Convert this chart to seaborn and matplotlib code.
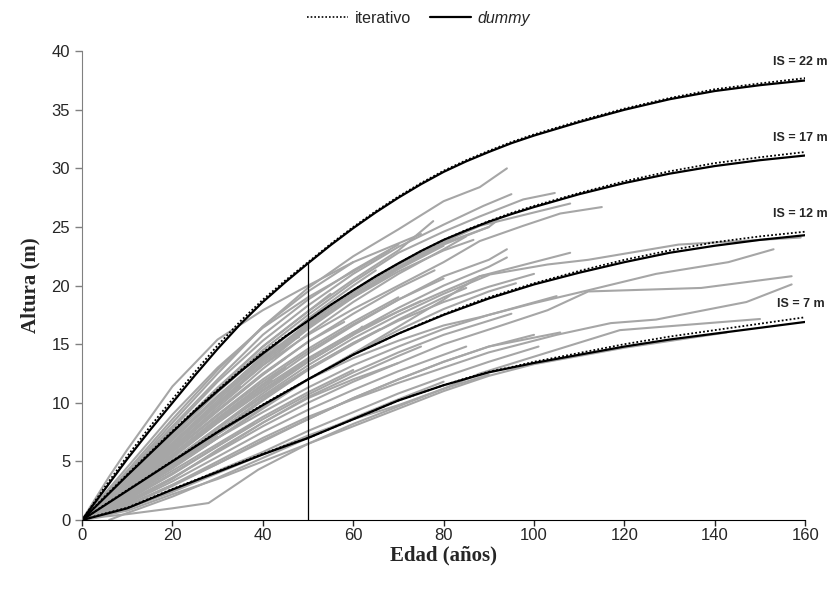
import matplotlib
matplotlib.use("Agg")
import matplotlib.pyplot as plt
import seaborn as sns
import pandas as pd
from matplotlib.lines import Line2D

# --- curvas de índice de sitio ---
edad_curva = [0, 5, 10, 15, 20, 25, 30, 35, 40, 45, 50, 55, 60, 65, 70, 75, 80, 85, 90, 95, 100,
              110, 120, 130, 140, 150, 160]
indices = ["IS = 22 m", "IS = 17 m", "IS = 12 m", "IS = 7 m"]

dummy_22 = [0, 2.6, 5.2, 7.65, 10.0, 12.35, 14.6, 16.7, 18.6, 20.3, 21.9, 23.45, 24.9, 26.25, 27.5,
            28.65, 29.7, 30.6, 31.4, 32.15, 32.8, 33.95, 35.0, 35.9, 36.6, 37.1, 37.5]
dummy_17 = [0, 1.9, 3.8, 5.65, 7.5, 9.3, 11.0, 12.65, 14.2, 15.65, 17.0, 18.35, 19.6, 20.8, 21.9,
            22.95, 23.9, 24.7, 25.45, 26.1, 26.7, 27.8, 28.75, 29.55, 30.2, 30.7, 31.1]
dummy_12 = [0, 1.25, 2.5, 3.75, 5.0, 6.25, 7.5, 8.65, 9.8, 10.9, 12.0, 13.05, 14.1, 15.0, 15.9,
            16.7, 17.5, 18.2, 18.9, 19.5, 20.1, 21.1, 22.0, 22.8, 23.4, 23.9, 24.3]
dummy_7 = [0, 0.5, 1.0, 1.8, 2.6, 3.35, 4.1, 4.85, 5.6, 6.3, 7.0, 7.8, 8.6, 9.4, 10.2,
           10.85, 11.5, 12.05, 12.6, 13.0, 13.4, 14.1, 14.8, 15.4, 15.9, 16.4, 16.9]

iter_22 = [0, 2.8, 5.45, 7.95, 10.3, 12.65, 14.9, 16.95, 18.8, 20.45, 22.0, 23.55, 25.0, 26.35, 27.6,
           28.75, 29.8, 30.7, 31.5, 32.25, 32.9, 34.05, 35.1, 36.0, 36.75, 37.25, 37.7]
iter_17 = [0, 2.0, 3.9, 5.75, 7.6, 9.4, 11.1, 12.75, 14.3, 15.7, 17.0, 18.35, 19.6, 20.8, 21.9,
           22.95, 23.9, 24.75, 25.5, 26.2, 26.8, 27.9, 28.9, 29.75, 30.45, 30.95, 31.4]
iter_12 = [0, 1.3, 2.55, 3.8, 5.05, 6.3, 7.55, 8.7, 9.85, 10.95, 12.0, 13.05, 14.1, 15.0, 15.9,
           16.75, 17.55, 18.3, 19.0, 19.6, 20.2, 21.25, 22.2, 23.0, 23.7, 24.2, 24.6]
iter_7 = [0, 0.55, 1.05, 1.85, 2.65, 3.4, 4.15, 4.9, 5.65, 6.35, 7.0, 7.8, 8.6, 9.4, 10.2,
          10.85, 11.5, 12.1, 12.65, 13.05, 13.5, 14.25, 15.0, 15.65, 16.2, 16.75, 17.3]

# posición de las etiquetas IS (edad, altura)
etiqueta_x = [159, 159, 159, 159]
etiqueta_y = [39.1, 32.6, 26.1, 18.4]

# edad de referencia
edad_ref = 50
altura_ref = 21.9

# --- datos observados (análisis de tallo), un árbol por fila ---
arbol_edades = [
    [0, 10, 20, 30, 40, 50, 60, 70, 80, 88, 94],
    [0, 10, 20, 30, 40, 50, 60, 70, 80, 88.8, 95],
    [0, 10, 20, 30, 40, 50, 60, 70, 80, 88, 97.6, 104.6],
    [0, 10, 20, 30, 40, 50, 60, 70, 80, 88, 108],
    [0, 10, 20, 30, 40, 50, 60, 70, 80, 88, 97.6, 105.8, 115],
    [0, 10, 20, 30, 40, 50, 60, 70, 77.7],
    [0, 10, 20, 30, 40, 50, 60, 70, 80, 86.6],
    [0, 10, 20, 30, 40, 50, 60, 70],
    [0, 10, 20, 30, 40, 50, 60],
    [0, 10, 20, 30, 40, 50, 60, 65],
    [0, 10, 20, 30, 40, 50, 60, 70, 80],
    [0, 6, 10, 20, 30, 40, 50, 60, 70, 75],
    [0, 10, 20, 30, 40, 50, 60, 70, 80, 90],
    [0, 10, 20, 30, 40, 50, 55],
    [0, 10, 20, 30, 40, 50, 60, 70, 72],
    [0, 10, 20, 30, 40, 50, 60, 70, 80, 85],
    [0, 10, 20, 30, 40, 50, 60, 68],
    [0, 10, 20, 30, 40, 50, 60, 70, 80, 90, 92],
    # banda media
    [0, 10, 20, 30, 40, 50, 60, 70, 80, 88, 108],
    [0, 10, 20, 30, 40, 50, 60, 70, 80, 90, 94],
    [0, 10, 20, 30, 40, 50, 60, 70, 80, 90, 94],
    [0, 10, 20, 30, 40, 50, 60, 70, 80],
    [0, 10, 20, 30, 40, 50, 60, 70],
    [0, 10, 20, 30, 40, 50, 60, 62],
    [0, 10, 20, 30, 40, 50, 60, 70, 80, 90],
    [0, 10, 20, 30, 40, 50, 60, 70, 75],
    [0, 10, 20, 30, 40, 50, 60, 70, 80, 85],
    [0, 10, 20, 30, 40, 50, 58],
    [0, 10, 20, 30, 40, 50, 60, 70, 80, 90, 100],
    [0, 10, 20, 30, 40, 45],
    [0, 10, 20, 30, 40, 50, 60, 66],
    [0, 10, 20, 30, 40, 50, 60, 70, 80, 90, 96],
    [0, 10, 20, 30, 40, 50, 60, 70, 80, 90, 105],
    [0, 10, 20, 30, 40, 50, 60, 70, 80, 88, 103, 112, 132, 159],
    [0, 10, 20, 30, 40, 50, 60, 70, 80, 88, 100, 112, 127, 143, 153],
    [0, 10, 20, 30, 40, 50, 60, 70, 78],
    # banda baja
    [0, 10, 20, 30, 40, 50, 60, 70, 80, 92, 103, 112, 137, 157],
    [0, 10, 20, 30, 40, 50, 60, 70, 80, 90, 105, 117, 127, 147, 157],
    [0, 10, 20, 30, 40, 50, 60, 70, 80, 88, 98, 119, 150],
    [0, 10, 20, 30, 40, 50, 60, 70, 80, 90, 100, 120, 142.6],
    [0, 10, 20, 30, 40, 50, 60, 70, 80, 90, 105.8],
    [0, 10, 20, 30, 40, 50, 60, 70, 80, 90, 101],
    [0, 10, 20, 30, 40, 50, 60, 70],
    [0, 10, 20, 30, 40, 50, 60, 70, 80, 85],
    [0, 10, 20, 30, 40, 50, 60, 70, 80, 90, 95],
    [0, 5, 10, 20, 28, 39, 50, 60, 70, 80, 90],
    [6, 10, 20, 30, 40, 50, 60, 70, 80],
    [0, 10, 20, 30, 40, 50, 60],
    [0, 10, 20, 30, 40, 50, 60, 70, 80, 90, 100],
    [0, 10, 20, 30, 40, 50, 60, 70, 75],
    # árboles jóvenes
    [0, 10, 20, 30, 35],
    [0, 10, 20, 30, 40, 42],
    [0, 10, 20, 30],
    [0, 10, 20, 30, 40, 48],
    [0, 10, 20, 30, 38],
    [0, 10, 20, 30, 40, 45],
    [0, 10, 20, 30, 40, 50, 52],
    [0, 10, 20, 30, 40],
]
arbol_alturas = [
    [0, 4.0, 8.3, 12.5, 16.5, 19.8, 22.5, 24.8, 27.2, 28.4, 30.0],
    [0, 3.8, 7.8, 11.8, 15.3, 18.3, 21.0, 23.3, 25.2, 26.8, 27.8],
    [0, 3.5, 7.3, 11.0, 14.5, 17.5, 20.3, 22.8, 24.6, 25.9, 27.35, 27.9],
    [0, 3.3, 7.0, 10.5, 13.8, 16.8, 19.5, 21.8, 23.7, 25.1, 27.0],
    [0, 3.0, 6.5, 10.0, 13.2, 15.8, 18.0, 20.0, 22.0, 23.8, 25.1, 26.15, 26.7],
    [0, 3.6, 7.5, 11.3, 14.8, 17.8, 20.5, 23.0, 25.5],
    [0, 3.4, 7.0, 10.6, 13.8, 16.6, 19.0, 21.2, 23.0, 23.9],
    [0, 3.9, 8.0, 12.0, 15.8, 18.8, 21.3, 23.5],
    [0, 4.2, 8.6, 12.8, 16.5, 19.5, 22.0],
    [0, 3.2, 6.8, 10.5, 14.0, 17.2, 20.0, 21.3],
    [0, 3.0, 6.4, 9.9, 13.2, 16.3, 19.0, 21.4, 23.4],
    [0, 3.7, 6.0, 11.4, 15.4, 17.9, 20.0, 22.0, 23.6, 24.4],
    [0, 3.3, 6.9, 10.4, 13.6, 16.5, 19.2, 21.6, 23.6, 25.0],
    [0, 3.5, 7.3, 11.2, 14.8, 17.8, 19.3],
    [0, 3.1, 6.6, 10.2, 13.6, 16.7, 19.4, 21.8, 22.3],
    [0, 2.9, 6.2, 9.6, 12.9, 15.9, 18.6, 21.0, 23.1, 24.2],
    [0, 4.5, 9.0, 13.0, 16.4, 19.0, 21.2, 23.0],
    [0, 3.0, 6.5, 10.0, 13.4, 16.4, 19.2, 21.5, 23.5, 25.0, 25.6],
    # banda media
    [0, 2.5, 5.5, 8.5, 11.3, 13.8, 16.0, 17.8, 19.5, 20.8, 22.8],
    [0, 2.7, 5.8, 8.9, 11.8, 14.4, 16.7, 18.8, 20.8, 22.2, 23.1],
    [0, 2.4, 5.3, 8.3, 11.1, 13.7, 16.0, 18.1, 20.0, 21.6, 22.4],
    [0, 2.6, 5.6, 8.6, 11.5, 14.2, 16.6, 18.8, 20.6],
    [0, 2.8, 5.9, 9.0, 12.0, 14.6, 16.9, 19.0],
    [0, 2.3, 5.0, 7.9, 10.8, 13.5, 15.8, 16.5],
    [0, 2.2, 4.9, 7.8, 10.6, 13.2, 15.5, 17.5, 19.3, 20.9],
    [0, 2.5, 5.4, 8.3, 11.0, 13.5, 15.8, 17.8, 18.7],
    [0, 2.0, 4.6, 7.4, 10.2, 12.8, 15.0, 17.1, 19.0, 19.8],
    [0, 3.0, 6.2, 9.4, 12.5, 15.2, 16.9],
    [0, 2.3, 5.1, 7.9, 10.5, 12.9, 15.1, 17.0, 18.6, 19.9, 21.0],
    [0, 2.6, 5.6, 8.7, 11.6, 13.0],
    [0, 2.1, 4.7, 7.5, 10.3, 12.9, 15.1, 16.3],
    [0, 2.0, 4.4, 7.0, 9.6, 12.0, 14.2, 16.2, 18.0, 19.5, 20.2],
    [0, 2.0, 4.5, 7.0, 9.2, 11.3, 13.2, 14.8, 16.3, 17.5, 19.1],
    [0, 2.0, 4.5, 7.0, 9.5, 12.0, 14.2, 16.5, 18.8, 20.8, 21.8, 22.2, 23.5, 24.1],
    [0, 2.2, 4.6, 7.3, 9.8, 12.0, 13.8, 15.3, 16.6, 17.3, 18.5, 19.6, 21.0, 22.0, 23.1],
    [0, 2.9, 6.1, 9.3, 12.4, 15.2, 17.6, 19.8, 21.3],
    # banda baja
    [0, 1.5, 3.5, 6.0, 8.3, 10.4, 12.0, 13.4, 15.0, 16.5, 17.9, 19.5, 19.8, 20.8],
    [0, 1.2, 3.0, 5.0, 7.0, 8.8, 10.3, 11.7, 13.0, 14.3, 15.8, 16.8, 17.1, 18.6, 20.1],
    [0, 1.0, 2.4, 4.0, 5.6, 7.2, 8.6, 9.8, 11.2, 12.5, 13.7, 16.2, 17.15],
    [0, 0.8, 2.2, 3.5, 5.0, 6.5, 8.0, 9.5, 11.0, 12.3, 13.3, 14.7, 16.0],
    [0, 1.3, 3.0, 4.8, 6.8, 8.6, 10.4, 12.0, 13.5, 14.8, 16.0],
    [0, 1.0, 2.5, 4.2, 5.8, 7.6, 9.2, 10.8, 12.2, 13.5, 14.8],
    [0, 1.6, 3.6, 5.8, 8.0, 10.0, 11.8, 13.4],
    [0, 1.4, 3.3, 5.4, 7.5, 9.4, 11.1, 12.7, 14.1, 14.8],
    [0, 1.8, 4.0, 6.3, 8.6, 10.7, 12.6, 14.3, 15.8, 17.0, 17.6],
    [0, 0.3, 0.5, 1.0, 1.45, 4.3, 6.5, 8.2, 9.7, 11.2, 12.4],
    [0, 0.6, 2.0, 3.6, 5.3, 7.0, 8.7, 10.3, 11.8],
    [0, 1.9, 4.2, 6.5, 8.8, 10.9, 12.8],
    [0, 1.2, 2.9, 4.8, 6.7, 8.6, 10.4, 12.0, 13.5, 14.8, 15.8],
    [0, 1.5, 3.6, 5.9, 8.3, 10.5, 12.3, 14.0, 14.8],
    # árboles jóvenes
    [0, 3.0, 6.4, 9.8, 11.4],
    [0, 2.5, 5.4, 8.4, 11.3, 11.9],
    [0, 2.0, 4.5, 7.1],
    [0, 3.5, 7.2, 10.9, 14.3, 15.6],
    [0, 1.7, 3.9, 6.3, 8.2],
    [0, 2.8, 6.0, 9.3, 12.4, 13.8],
    [0, 2.2, 4.8, 7.6, 10.3, 12.9, 13.3],
    [0, 3.3, 6.9, 10.5, 13.9],
]

# tablas largas para seaborn
filas = []
for i, (ed, al) in enumerate(zip(arbol_edades, arbol_alturas)):
    for e, a in zip(ed, al):
        filas.append({"arbol": i, "edad": e, "altura": a})
df_obs = pd.DataFrame(filas)

curvas = []
for nombre, dum, it in zip(indices, [dummy_22, dummy_17, dummy_12, dummy_7],
                           [iter_22, iter_17, iter_12, iter_7]):
    for e, d, t in zip(edad_curva, dum, it):
        curvas.append({"IS": nombre, "edad": e, "dummy": d, "iterativo": t})
df_curvas = pd.DataFrame(curvas)

sns.set_style("white")
plt.rcParams['font.family'] = ['Liberation Sans', 'DejaVu Sans']

fig = plt.figure(figsize=(8.37, 5.95), dpi=100)
ax = fig.add_axes([0.098, 0.126, 0.864, 0.788])

sns.lineplot(data=df_obs, x="edad", y="altura", units="arbol", estimator=None,
             color="#a6a6a6", linewidth=1.5, ax=ax, legend=False, sort=False)

sns.lineplot(data=df_curvas, x="edad", y="iterativo", units="IS", estimator=None,
             color="black", linewidth=1.3, linestyle=(0, (1, 1.2)), ax=ax, legend=False)
sns.lineplot(data=df_curvas, x="edad", y="dummy", units="IS", estimator=None,
             color="black", linewidth=1.6, ax=ax, legend=False)

# línea de edad de referencia
ax.plot([edad_ref, edad_ref], [0, altura_ref], color="black", linewidth=0.9)

for txt, x, y in zip(indices, etiqueta_x, etiqueta_y):
    ax.text(x, y, txt, ha="center", va="center", fontsize=9, fontweight="bold",
            clip_on=False)

ax.set_xlim(0, 160)
ax.set_ylim(0, 40)
ax.set_xticks(range(0, 161, 20))
ax.set_yticks(range(0, 41, 5))
ax.tick_params(axis="both", direction="out", length=5, labelsize=12, width=1,
               bottom=True, left=True)
ax.tick_params(axis="x", length=4, pad=1.5)
ax.tick_params(axis="y", color="#808080")
for s in ["top", "right"]:
    ax.spines[s].set_visible(False)
ax.spines["left"].set_color("#808080")
ax.spines["bottom"].set_color("black")

ax.set_xlabel("Edad (años)", fontsize=15, fontweight="bold", family="Liberation Serif", labelpad=2)
ax.set_ylabel("Altura (m)", fontsize=15, fontweight="bold", family="Liberation Serif", labelpad=8)

handles = [Line2D([], [], color="black", linewidth=1.2, linestyle=(0, (1, 1.2))),
           Line2D([], [], color="black", linewidth=1.6)]
leg = fig.legend(handles, ["iterativo", "dummy"], loc="center", bbox_to_anchor=(0.5, 0.969),
                 ncol=2, frameon=False, fontsize=11.5, handlelength=2.6, handletextpad=0.4,
                 columnspacing=1.2)
leg.get_texts()[1].set_fontstyle("italic")

fig.savefig("out.png", dpi=100)
